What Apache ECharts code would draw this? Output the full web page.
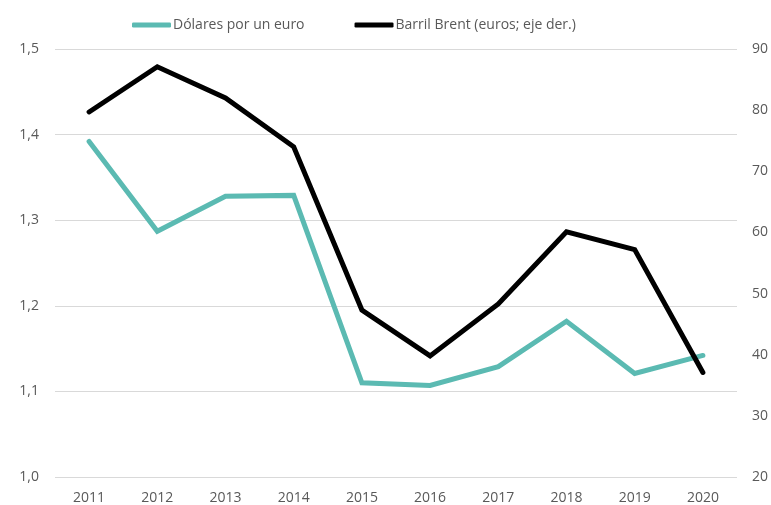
<!DOCTYPE html>
<html>
<head>
<meta charset="utf-8">
<script src="https://cdn.jsdelivr.net/npm/echarts@6/dist/echarts.min.js"></script>
<style>
html,body{margin:0;padding:0;background:#fff;}
#chart{width:771px;height:505px;}
</style>
</head>
<body>
<div id="chart"></div>
<script>
var years = ['2011','2012','2013','2014','2015','2016','2017','2018','2019','2020'];
var dolaresPorEuro = [1.392, 1.287, 1.328, 1.329, 1.110, 1.107, 1.129, 1.182, 1.121, 1.142];
var barrilBrent = [79.7, 87.1, 82.0, 74.0, 47.3, 39.8, 48.3, 60.1, 57.2, 37.1];
var seriesNames = ['Dólares por un euro', 'Barril Brent (euros; eje der.)'];

var font = '"Open Sans", sans-serif';
var txt = '#595959';
var chart = echarts.init(document.getElementById('chart'));
chart.setOption({
  animation: false,
  backgroundColor: '#ffffff',
  legend: {
    top: 13,
    left: 127,
    itemWidth: 39,
    itemHeight: 5,
    itemGap: 50,
    icon: 'roundRect',
    textStyle: {color: txt, fontFamily: font, fontSize: 14, padding: [0, 0, 0, -3]},
    data: seriesNames
  },
  grid: {left: 55, right: 34, top: 49, bottom: 28, containLabel: false},
  xAxis: {
    type: 'category',
    data: years,
    boundaryGap: true,
    axisLine: {show: false},
    axisTick: {show: false},
    axisLabel: {color: txt, fontFamily: font, fontSize: 14, margin: 14}
  },
  yAxis: [{
    type: 'value', min: 1.0, max: 1.5, interval: 0.1,
    axisLine: {show: false}, axisTick: {show: false},
    splitLine: {lineStyle: {color: '#d9d9d9', width: 1}},
    axisLabel: {color: txt, fontFamily: font, fontSize: 14, margin: 16,
      formatter: function (v) { return v.toFixed(1).replace('.', ','); }}
  }, {
    type: 'value', min: 20, max: 90, interval: 10,
    axisLine: {show: false}, axisTick: {show: false},
    splitLine: {show: false},
    axisLabel: {color: txt, fontFamily: font, fontSize: 14, margin: 15}
  }],
  series: [{
    name: seriesNames[0], type: 'line', yAxisIndex: 0,
    data: dolaresPorEuro, symbol: 'none',
    itemStyle: {color: '#5bbab2'},
    lineStyle: {color: '#5bbab2', width: 5, cap: 'round', join: 'miter'}
  }, {
    name: seriesNames[1], type: 'line', yAxisIndex: 1,
    data: barrilBrent, symbol: 'none',
    itemStyle: {color: '#000000'},
    lineStyle: {color: '#000000', width: 5, cap: 'round', join: 'miter'}
  }]
});
</script>
</body>
</html>
